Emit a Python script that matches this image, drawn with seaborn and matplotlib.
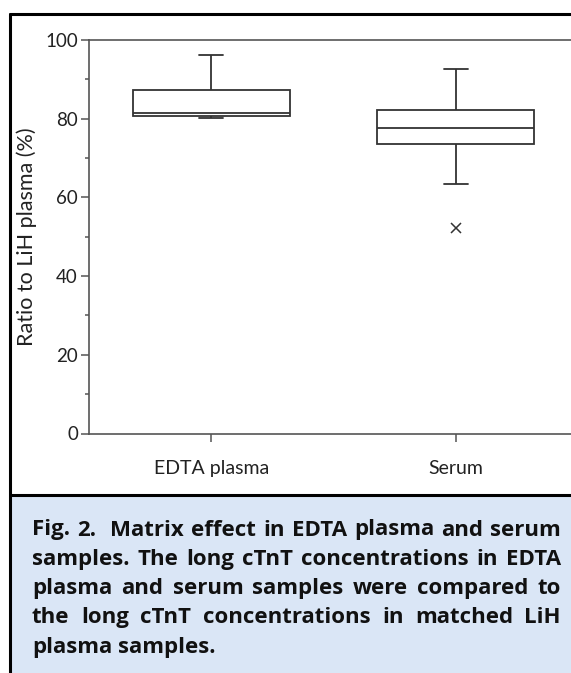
import matplotlib
matplotlib.use("Agg")
import matplotlib.pyplot as plt
from matplotlib.lines import Line2D
from matplotlib.patches import Rectangle
from matplotlib.ticker import MultipleLocator
import seaborn as sns
import pandas as pd

# ---- data ----
categories = ["EDTA plasma", "Serum"]
edta_values = [80.1, 80.8, 81.4, 87.4, 96.2]
serum_values = [52.1, 63.3, 73.6, 73.6, 77.6, 82.1, 82.1, 82.1, 92.7]
y_ticks = [0, 20, 40, 60, 80, 100]
y_label = "Ratio to LiH plasma (%)"
caption_lines = [
    ["Fig.", "2.", "Matrix", "effect", "in", "EDTA", "plasma", "and", "serum"],
    ["samples.", "The", "long", "cTnT", "concentrations", "in", "EDTA"],
    ["plasma", "and", "serum", "samples", "were", "compared", "to"],
    ["the", "long", "cTnT", "concentrations", "in", "matched", "LiH"],
    ["plasma", "samples."],
]

df = pd.DataFrame({
    "group": [categories[0]] * len(edta_values) + [categories[1]] * len(serum_values),
    "value": edta_values + serum_values,
})

sns.set_theme(style="ticks")
plt.rcParams["font.family"] = ["Lato", "DejaVu Sans"]

W, H = 571, 673
fig = plt.figure(figsize=(W / 100, H / 100), dpi=100)
fig.patch.set_facecolor("white")

def fx(px):
    return px / W

def fy(py):
    return 1 - py / H

# caption background
fig.add_artist(Rectangle((fx(10), 0), 1 - fx(10), fy(495), transform=fig.transFigure,
                         facecolor="#DAE6F6", edgecolor="none", zorder=0))
# frame lines
frame_kw = dict(transform=fig.transFigure, color="black", linewidth=2.2, zorder=5)
fig.add_artist(Line2D([fx(10), 1], [fy(13.5), fy(13.5)], **frame_kw))
fig.add_artist(Line2D([fx(10), fx(10)], [0, fy(13.5)], **frame_kw))
fig.add_artist(Line2D([fx(10), 1], [fy(494.5), fy(494.5)], **frame_kw))

# axes
ax_left, ax_right, ax_top, ax_bottom = 89, 578, 40, 433.5
ax = fig.add_axes([fx(ax_left), fy(ax_bottom), fx(ax_right - ax_left),
                   (ax_bottom - ax_top) / H])
ax.set_facecolor("none")

line_c = "#333333"
sns.boxplot(data=df, x="group", y="value", order=categories, ax=ax,
            width=0.643, color="white", linecolor=line_c, linewidth=1.3,
            whis=1.5, capwidths=0.10,
            flierprops=dict(marker="x", markersize=7, markeredgecolor=line_c,
                            markerfacecolor=line_c, markeredgewidth=1.1))

ax.set_xlim(-0.5, 1.5)
ax.set_ylim(0, 100)
ax.set_yticks(y_ticks)
ax.yaxis.set_minor_locator(MultipleLocator(10))
ax.set_xlabel("")
ax.set_ylabel(y_label, fontsize=15.5, color="#222222", labelpad=6)

spine_c = "#555555"
for s in ["left", "bottom", "top"]:
    ax.spines[s].set_visible(True)
    ax.spines[s].set_color(spine_c)
    ax.spines[s].set_linewidth(1.2)
ax.spines["right"].set_visible(False)

ax.tick_params(axis="y", which="major", direction="out", length=6, width=1.1,
               color=spine_c, labelsize=13.5, labelcolor="#222222", pad=2)
ax.tick_params(axis="y", which="minor", direction="out", length=3, width=1.1,
               color=spine_c)
ax.tick_params(axis="x", which="major", direction="out", length=6, width=1.1,
               color=spine_c, labelsize=14, labelcolor="#222222", pad=13)

# ---- justified caption ----
cap_left, cap_right = 32, 561
base0, step = 535.5, 29.3
cap_fs = 16
cap_font = ["Open Sans", "DejaVu Sans"]
fig.canvas.draw()
renderer = fig.canvas.get_renderer()
for i, words in enumerate(caption_lines):
    yb = fy(base0 + i * step)
    texts = [fig.text(0, yb, w, fontsize=cap_fs, fontweight="bold", family=cap_font,
                      color="#111111", va="baseline", ha="left", zorder=6)
             for w in words]
    widths = [t.get_window_extent(renderer).width for t in texts]
    last = i == len(caption_lines) - 1
    weights = [1.0] * (len(words) - 1)
    if i == 0:
        weights[1] = 2.0
    if last:
        gaps = [cap_fs * 0.33] * len(weights)
    else:
        free = (cap_right - cap_left) - sum(widths)
        unit = free / sum(weights)
        gaps = [unit * wgt for wgt in weights]
    x = cap_left
    for j, t in enumerate(texts):
        t.set_x(fx(x))
        x += widths[j]
        if j < len(gaps):
            x += gaps[j]

fig.savefig("out.png", dpi=100)
